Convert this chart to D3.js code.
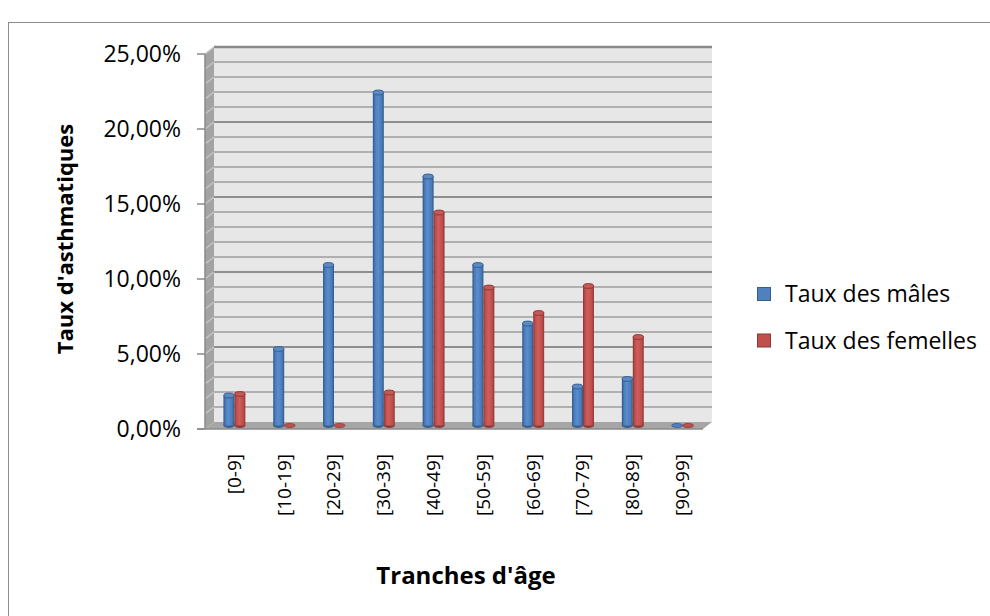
<!DOCTYPE html>
<html>
<head>
<meta charset="utf-8">
<script src="https://cdn.jsdelivr.net/npm/d3@7/dist/d3.min.js"></script>
<style>
  html, body { margin: 0; padding: 0; background: #fff; }
  svg { display: block; }
  text { font-family: "Open Sans", Lato, sans-serif; fill: #000; }
</style>
</head>
<body>
<svg id="chart" width="990" height="616"></svg>
<script>
const categories = ["[0-9]", "[10-19]", "[20-29]", "[30-39]", "[40-49]", "[50-59]", "[60-69]", "[70-79]", "[80-89]", "[90-99]"];
const seriesNames = ["Taux des mâles", "Taux des femelles"];
const males   = [0.020, 0.051, 0.107, 0.222, 0.166, 0.107, 0.068, 0.026, 0.031, 0.000];
const females = [0.021, 0.000, 0.000, 0.022, 0.142, 0.092, 0.075, 0.093, 0.059, 0.000];
const yTicks = [0, 0.05, 0.10, 0.15, 0.20, 0.25];
const yTitle = "Taux d'asthmatiques";
const xTitle = "Tranches d'âge";

const svg = d3.select("#chart");

// chart border (only top and left visible)
svg.append("rect").attr("x", 8.5).attr("y", 22.5).attr("width", 1100).attr("height", 1100)
  .attr("fill", "none").attr("stroke", "#8c8c8c").attr("stroke-width", 1);

const x0 = 205, x1 = 703;
const dx = 9, dy = -7;
const y = d3.scaleLinear().domain([0, 0.25]).range([429, 54]);
const x = d3.scaleBand().domain(categories).range([x0, x1]).paddingInner(0.56).paddingOuter(0.28);
const xs = d3.scaleBand().domain(seriesNames).range([0, x.bandwidth()]);

const defs = svg.append("defs");
function grad(id, stops) {
  const g = defs.append("linearGradient").attr("id", id).attr("x1", "0").attr("x2", "1").attr("y1", "0").attr("y2", "0");
  stops.forEach(s => g.append("stop").attr("offset", s[0]).attr("stop-color", s[1]));
}
grad("gBlue", [[0, "#2f5585"], [0.2, "#4a7dbd"], [0.45, "#5a8dcc"], [0.8, "#4a7bb8"], [1, "#30578a"]]);
grad("gRed", [[0, "#8a3432"], [0.2, "#c0504d"], [0.45, "#cf5e5b"], [0.8, "#bd4e4b"], [1, "#8c3634"]]);
const colors = { "Taux des mâles": { g: "url(#gBlue)", top: "#5b8ac4", edge: "#36608f", legend: "#4f81bd", legendEdge: "#385d8a" },
                 "Taux des femelles": { g: "url(#gRed)", top: "#c65855", edge: "#8c3a38", legend: "#c0504d", legendEdge: "#8c3836" } };

// side wall
const yTop = y(0.25), yBot = y(0);
svg.append("path")
  .attr("d", `M${x0},${yTop} L${x0 + dx},${yTop + dy} L${x0 + dx},${yBot + dy} L${x0},${yBot} Z`)
  .attr("fill", "#a3a3a3");
// back wall
svg.append("rect").attr("x", x0 + dx).attr("y", yTop + dy).attr("width", x1 - x0).attr("height", yBot - yTop)
  .attr("fill", "#e7e7e7");
// floor
svg.append("path")
  .attr("d", `M${x0},${yBot} L${x0 + dx},${yBot + dy} L${x1 + dx},${yBot + dy} L${x1},${yBot} Z`)
  .attr("fill", "#a6a6a6");

// gridlines every 1%
const grid = d3.range(1, 26).map(i => i / 100);
grid.forEach(v => {
  const major = Math.abs((v * 100) % 5) < 1e-6;
  const yy = y(v);
  svg.append("line").attr("x1", x0 + dx).attr("x2", x1 + dx).attr("y1", yy + dy).attr("y2", yy + dy)
    .attr("stroke", major ? "#8e8e8e" : "#b0b0b0").attr("stroke-width", 2);
  svg.append("line").attr("x1", x0).attr("x2", x0 + dx).attr("y1", yy).attr("y2", yy + dy)
    .attr("stroke", "#c4c4c4").attr("stroke-width", 1.5);
});
// back wall top edge
svg.append("line").attr("x1", x0 + dx).attr("x2", x1 + dx).attr("y1", yTop + dy).attr("y2", yTop + dy)
  .attr("stroke", "#8a8a8a").attr("stroke-width", 2.5);

// axis line and ticks
svg.append("line").attr("x1", x0).attr("x2", x0).attr("y1", yTop).attr("y2", yBot).attr("stroke", "#8a8a8a").attr("stroke-width", 1.5);
svg.append("line").attr("x1", 197).attr("x2", x1).attr("y1", yBot).attr("y2", yBot).attr("stroke", "#8a8a8a").attr("stroke-width", 1.5);
yTicks.forEach(t => {
  svg.append("line").attr("x1", 197).attr("x2", x0).attr("y1", y(t)).attr("y2", y(t)).attr("stroke", "#8a8a8a").attr("stroke-width", 1.5);
});

const fmt = v => (v * 100).toFixed(2).replace(".", ",") + "%";
svg.append("g").selectAll("text").data(yTicks).join("text")
  .attr("x", 181).attr("y", d => y(d)).attr("dy", "0.36em").attr("text-anchor", "end")
  .attr("font-size", 23).attr("fill", "#222").text(fmt);

// bars (cylinders), placed at mid-depth
const bx = dx / 2, by = dy / 2;
const data = [];
categories.forEach((c, i) => {
  data.push({ cat: c, s: seriesNames[0], v: males[i] });
  data.push({ cat: c, s: seriesNames[1], v: females[i] });
});
const bw = xs.bandwidth();
const bars = svg.append("g");
data.forEach(d => {
  const left = x(d.cat) + xs(d.s) + bx;
  const top = y(d.v) + by;
  const bot = y(0) + by;
  const rx = bw / 2, ry = 2.4;
  const col = colors[d.s];
  const g = bars.append("g");
  if (d.v > 0) {
    g.append("ellipse").attr("cx", left + rx).attr("cy", bot).attr("rx", rx).attr("ry", ry).attr("fill", col.edge);
    g.append("rect").attr("x", left).attr("y", top).attr("width", bw).attr("height", bot - top).attr("fill", col.g);
    g.append("ellipse").attr("cx", left + rx).attr("cy", top).attr("rx", rx - 0.3).attr("ry", ry)
      .attr("fill", col.top).attr("stroke", col.edge).attr("stroke-width", 1);
  } else {
    g.append("ellipse").attr("cx", left + rx).attr("cy", bot).attr("rx", rx).attr("ry", ry * 0.85)
      .attr("fill", col.legend).attr("stroke", col.edge).attr("stroke-width", 0.8);
  }
});

// category labels
svg.append("g").selectAll("text").data(categories).join("text")
  .attr("transform", d => `translate(${x(d) + x.bandwidth() / 2 + 4},454) rotate(-90)`)
  .attr("dy", "0.36em").attr("text-anchor", "end").attr("font-size", 19)
  .attr("font-family", "Lato, sans-serif").attr("fill", "#1a1a1a")
  .text(d => d);

// axis titles
svg.append("text").attr("x", 466).attr("y", 584).attr("text-anchor", "middle")
  .attr("font-size", 24).attr("font-weight", "bold").attr("fill", "#222").text(xTitle);
svg.append("text").attr("transform", "translate(73,239) rotate(-90)").attr("text-anchor", "middle")
  .attr("font-size", 22).attr("font-weight", "bold").attr("fill", "#222").text(yTitle);

// legend
const leg = svg.append("g");
seriesNames.forEach((s, i) => {
  const yy = 294 + i * 46.5;
  leg.append("rect").attr("x", 757.5).attr("y", yy - 6.5).attr("width", 13).attr("height", 13)
    .attr("fill", colors[s].legend).attr("stroke", colors[s].legendEdge).attr("stroke-width", 1);
  leg.append("text").attr("x", 785).attr("y", yy).attr("dy", "0.36em").attr("font-size", 23).attr("fill", "#222").text(s);
});
</script>
</body>
</html>
